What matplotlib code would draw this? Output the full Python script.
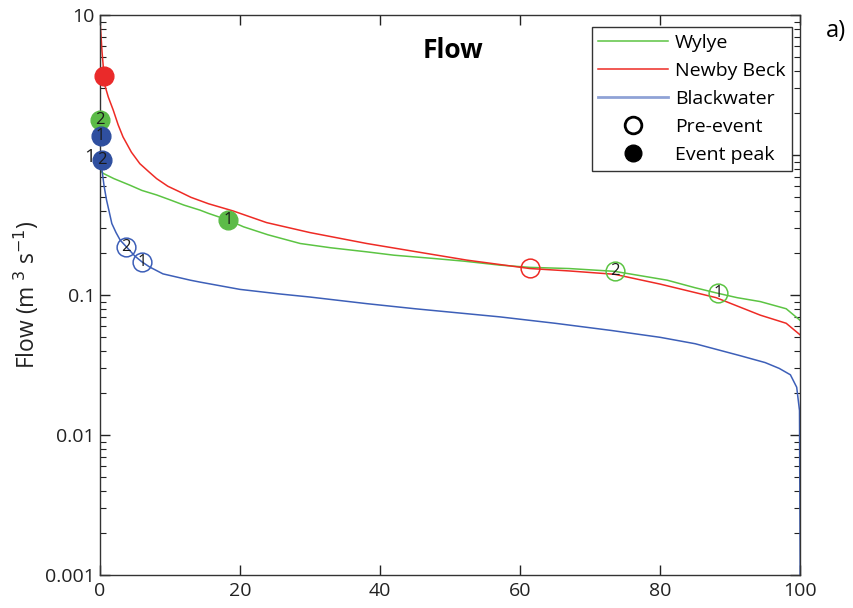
import matplotlib
matplotlib.use("Agg")
import matplotlib.pyplot as plt
from matplotlib.lines import Line2D
from matplotlib.ticker import LogLocator, NullFormatter

plt.rcParams['font.family'] = ['Open Sans', 'DejaVu Sans']

# Flow duration curves (exceedance %, flow m3/s)
red_x = [0, 0.3, 0.7, 1.2, 1.9, 2.6, 3.3, 4.5, 5.7, 7, 8.1, 9.7, 11.4, 13, 15.5, 19, 23.8, 30, 38.1, 45, 52.4, 61.4, 67, 73.5, 80, 88, 94.3, 98, 100]
red_y = [9.5, 5.5, 3.16, 2.6, 2.1, 1.65, 1.35, 1.05, 0.87, 0.76, 0.68, 0.6, 0.547, 0.5, 0.45, 0.4, 0.33, 0.28, 0.234, 0.205, 0.178, 0.155, 0.149, 0.141, 0.12, 0.096, 0.072, 0.063, 0.052]

green_x = [0, 0.5, 2, 4.3, 6, 8.1, 10, 12, 14.3, 15.5, 18.3, 20.5, 24, 28.6, 33, 38.1, 42, 47.6, 52, 57.1, 61.4, 67, 73.5, 81, 85, 88.3, 91, 94.3, 98, 100]
green_y = [0.78, 0.74, 0.68, 0.61, 0.56, 0.52, 0.48, 0.44, 0.405, 0.384, 0.344, 0.308, 0.27, 0.234, 0.218, 0.204, 0.193, 0.183, 0.175, 0.164, 0.158, 0.155, 0.148, 0.128, 0.113, 0.103, 0.096, 0.09, 0.08, 0.066]

blue_x = [0, 0.3, 0.6, 0.95, 1.3, 1.7, 2.3, 2.9, 3.8, 5, 6, 7.1, 9, 12.9, 14.3, 20, 25.7, 30, 38.1, 45, 57.1, 65, 73, 80, 85, 91.4, 95, 97, 98.6, 99.5, 99.9, 100]
blue_y = [0.92, 0.78, 0.6, 0.477, 0.4, 0.325, 0.28, 0.247, 0.221, 0.19, 0.173, 0.159, 0.142, 0.128, 0.124, 0.11, 0.102, 0.097, 0.087, 0.08, 0.07, 0.063, 0.056, 0.05, 0.045, 0.037, 0.033, 0.03, 0.027, 0.022, 0.015, 0.001]

# Event peaks (filled) and pre-event (open) points
peak_x = [0.6, 0.0, 0.1, 0.3, 18.3]
peak_y = [3.7, 1.78, 1.37, 0.92, 0.344]
peak_lab = ['', '2', '1', '2', '1']
peak_col = ['red', 'green', 'blue', 'blue', 'green']

pre_x = [3.7, 6.0, 61.4, 73.5, 88.3]
pre_y = [0.222, 0.173, 0.156, 0.148, 0.103]
pre_lab = ['2', '1', '', '2', '1']
pre_col = ['blue', 'blue', 'red', 'green', 'green']

line_cols = {'green': '#5cc443', 'red': '#ee2b25', 'blue': '#3d5fb8'}
fill_cols = {'green': '#5cbb48', 'red': '#ea2a2a', 'blue': '#2f4f9f'}

fig = plt.figure(figsize=(8.54, 6.08), dpi=100)
ax = fig.add_axes([0.117, 0.054, 0.820, 0.921])

ax.plot(green_x, green_y, color=line_cols['green'], lw=1.1, label='Wylye')
ax.plot(red_x, red_y, color=line_cols['red'], lw=1.1, label='Newby Beck')
ax.plot(blue_x, blue_y, color=line_cols['blue'], lw=1.1, label='Blackwater')

for x, y, lab, c in zip(peak_x, peak_y, peak_lab, peak_col):
    ax.plot(x, y, 'o', ms=13.5, mfc=fill_cols[c], mec=fill_cols[c], clip_on=False, zorder=5)
    if lab:
        ax.text(x, y, lab, ha='center', va='center', fontsize=12, color='#1a1a1a', zorder=6)

for x, y, lab, c in zip(pre_x, pre_y, pre_lab, pre_col):
    ax.plot(x, y, 'o', ms=13.5, mfc='none', mec=line_cols[c], mew=1.1, zorder=5)
    if lab:
        ax.text(x, y, lab, ha='center', va='center', fontsize=12, color='#1a1a1a', zorder=6)

ax.set_yscale('log')
ax.set_xlim(0, 100)
ax.set_ylim(0.001, 10)
ax.set_xticks([0, 20, 40, 60, 80, 100])
ax.set_yticks([0.001, 0.01, 0.1, 1, 10])
ax.set_yticklabels(['0.001', '0.01', '0.1', '1', '10'])
ax.yaxis.set_minor_locator(LogLocator(base=10, subs=range(2, 10)))
ax.yaxis.set_minor_formatter(NullFormatter())
ax.tick_params(which='both', direction='in', top=True, right=True, labelsize=14, colors='#222222')
ax.tick_params(which='major', length=7, width=1)
ax.tick_params(which='minor', length=4, width=0.8)
ax.tick_params(axis='x', pad=5)
for s in ax.spines.values():
    s.set_color('#333333')
    s.set_linewidth(1.0)

ax.set_ylabel('Flow (m$^{\\ 3}$ s$^{-1}$)', fontsize=16.5, color='#222222', labelpad=3)
ax.text(0.504, 0.9375, 'Flow', transform=ax.transAxes, ha='center', va='center',
        fontsize=19, fontweight='bold')
fig.text(0.979, 0.949, 'a)', ha='center', va='center', fontsize=17)

handles = [
    Line2D([], [], color=line_cols['green'], lw=1.1),
    Line2D([], [], color=line_cols['red'], lw=1.1),
    Line2D([], [], color='#8fa2d6', lw=2),
    Line2D([], [], marker='o', ls='none', ms=12, mfc='none', mec='black', mew=2),
    Line2D([], [], marker='o', ls='none', ms=12, mfc='black', mec='black'),
]
labels = ['Wylye', 'Newby Beck', 'Blackwater', 'Pre-event', 'Event peak']
leg = ax.legend(handles, labels, loc='upper right', bbox_to_anchor=(0.989, 0.979),
                fontsize=14, handlelength=3.6, labelspacing=0.52, borderaxespad=0,
                fancybox=False, framealpha=1, edgecolor='#333333', borderpad=0.35,
                handletextpad=0.35)
leg.get_frame().set_linewidth(1.0)

fig.savefig('out.png', dpi=100)
